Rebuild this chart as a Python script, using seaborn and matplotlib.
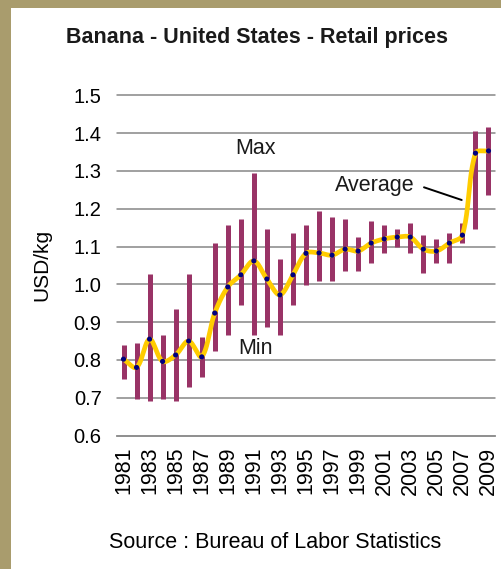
import numpy as np
import pandas as pd
import matplotlib
matplotlib.use("Agg")
import matplotlib.pyplot as plt
from matplotlib.patches import Rectangle
from matplotlib.lines import Line2D
import seaborn as sns

# Retail banana prices, USD/kg
years = list(range(1981, 2010))
avg_price = [0.802, 0.780, 0.855, 0.796, 0.813, 0.850, 0.808, 0.924, 0.993, 1.025,
             1.062, 1.014, 0.972, 1.025, 1.082, 1.083, 1.077, 1.093, 1.088, 1.109,
             1.120, 1.125, 1.125, 1.093, 1.088, 1.109, 1.130, 1.347, 1.353]
max_price = [0.839, 0.845, 1.026, 0.866, 0.934, 1.026, 0.861, 1.109, 1.157, 1.173,
             1.294, 1.146, 1.067, 1.136, 1.157, 1.194, 1.179, 1.172, 1.125, 1.167,
             1.157, 1.146, 1.162, 1.130, 1.120, 1.136, 1.162, 1.406, 1.416]
min_price = [0.749, 0.696, 0.690, 0.696, 0.690, 0.728, 0.755, 0.823, 0.865, 0.944,
             0.865, 0.886, 0.867, 0.944, 0.997, 1.008, 1.008, 1.034, 1.034, 1.056,
             1.083, 1.099, 1.083, 1.029, 1.056, 1.056, 1.109, 1.146, 1.236]
y_ticks = [0.6, 0.7, 0.8, 0.9, 1.0, 1.1, 1.2, 1.3, 1.4, 1.5]
label_years = years[::2]

df = pd.DataFrame({"year": years, "avg": avg_price, "max": max_price, "min": min_price})


def smooth_curve(x, y, sx, sy, steps=24):
    """Bezier smoothing through every point; handle lengths follow the
    on-screen lengths of the neighbouring segments (sx, sy = px per unit)."""
    x = np.asarray(x, float)
    y = np.asarray(y, float)
    n = len(x)
    P = np.column_stack([x, y])
    scale = np.array([sx, sy])

    def dist(a, b):
        return np.hypot(*((a - b) * scale))

    out_ctrl, in_ctrl = [], []
    for i in range(n):
        prev = P[max(i - 1, 0)]
        nxt = P[min(i + 1, n - 1)]
        tan = nxt - prev
        d_prev = dist(P[i], prev)
        d_next = dist(nxt, P[i])
        tot = d_prev + d_next if d_prev + d_next > 0 else 1.0
        out_ctrl.append(P[i] + tan * d_next / tot / 3.0)
        in_ctrl.append(P[i] - tan * d_prev / tot / 3.0)

    xs, ys = [x[0]], [y[0]]
    t = np.linspace(0, 1, steps + 1)[1:]
    for i in range(n - 1):
        p1, c1, c2, p2 = P[i], out_ctrl[i], in_ctrl[i + 1], P[i + 1]
        b = ((1 - t) ** 3)[:, None] * p1 + (3 * (1 - t) ** 2 * t)[:, None] * c1 \
            + (3 * (1 - t) * t ** 2)[:, None] * c2 + (t ** 3)[:, None] * p2
        xs.extend(b[:, 0])
        ys.extend(b[:, 1])
    return pd.DataFrame({"year": xs, "avg": ys})


sns.set_theme(style="white")
plt.rcParams["font.family"] = ["Liberation Sans", "DejaVu Sans"]

W, H = 501, 569
fig = plt.figure(figsize=(W / 100, H / 100), dpi=100)
fig.patch.set_facecolor("#A99C6D")
fig.add_artist(Rectangle((11 / W, 0), 1, 1 - 8 / H, transform=fig.transFigure,
                         facecolor="white", edgecolor="none", zorder=0))


def px(x, y):
    return x / W, 1 - y / H


left, right, top, bottom = 117, 495, 95.3, 435.5
ax = fig.add_axes([left / W, 1 - bottom / H, (right - left) / W, (bottom - top) / H])
ax.set_facecolor("none")

grid_col = "#868686"
for v in y_ticks[1:]:
    ax.axhline(v, color=grid_col, lw=1.1, zorder=1, clip_on=False)

# high-low range bars
ax.vlines(df["year"], df["min"], df["max"], color="#993366", lw=3.6,
          capstyle="butt", zorder=2)

# smoothed average line and its points
px_per_year = (right - left) / 29.0
px_per_usd = (bottom - top) / 0.9
curve = smooth_curve(df["year"], df["avg"], px_per_year, px_per_usd)
sns.lineplot(data=curve, x="year", y="avg", sort=False, color="#FFCC00",
             lw=3.4, ax=ax, zorder=3)
sns.scatterplot(data=df, x="year", y="avg", color="#000080", s=14,
                edgecolor="none", ax=ax, zorder=4)

ax.set_xlim(1980.5, 2009.5)
ax.set_ylim(0.6, 1.5)
ax.set_xlabel("")
ax.set_ylabel("")

for s in ["top", "right", "left"]:
    ax.spines[s].set_visible(False)
ax.spines["bottom"].set_color(grid_col)
ax.spines["bottom"].set_linewidth(1.3)

ax.set_yticks(y_ticks)
ax.set_yticklabels([f"{v:.1f}" for v in y_ticks], fontsize=14.5, color="black")
ax.tick_params(axis="y", length=0, pad=11)

ax.set_xticks(np.arange(1980.5, 2010.0, 1.0))
ax.set_xticklabels([])
ax.tick_params(axis="x", which="major", direction="inout", length=10, width=1.1,
               color=grid_col)
ax.set_xticks(label_years, minor=True)
ax.set_xticklabels([str(y) for y in label_years], minor=True, rotation=90,
                   fontsize=15.5, color="black")
ax.tick_params(axis="x", which="minor", length=0, pad=8)

fig.text(*px(257, 37), "Banana - United States - Retail prices", ha="center",
         va="center", fontsize=15.5, fontweight="bold", color="#1a1a1a")
fig.text(*px(42, 265), "USD/kg", rotation=90, ha="center", va="center",
         fontsize=15, color="black")
fig.text(*px(275, 542), "Source : Bureau of Labor Statistics", ha="center",
         va="center", fontsize=15.5, color="black")

fig.text(*px(256, 148), "Max", ha="center", va="center", fontsize=15.5, color="#1a1a1a")
fig.text(*px(256, 348), "Min", ha="center", va="center", fontsize=15.5, color="#1a1a1a")
fig.text(*px(375, 186), "Average", ha="center", va="center", fontsize=15.5, color="#1a1a1a")
x0, y0 = px(424, 187.3)
x1, y1 = px(461.7, 200)
fig.add_artist(Line2D([x0, x1], [y0, y1], color="black", lw=1.4,
                      transform=fig.transFigure))

fig.savefig("out.png", dpi=100)
